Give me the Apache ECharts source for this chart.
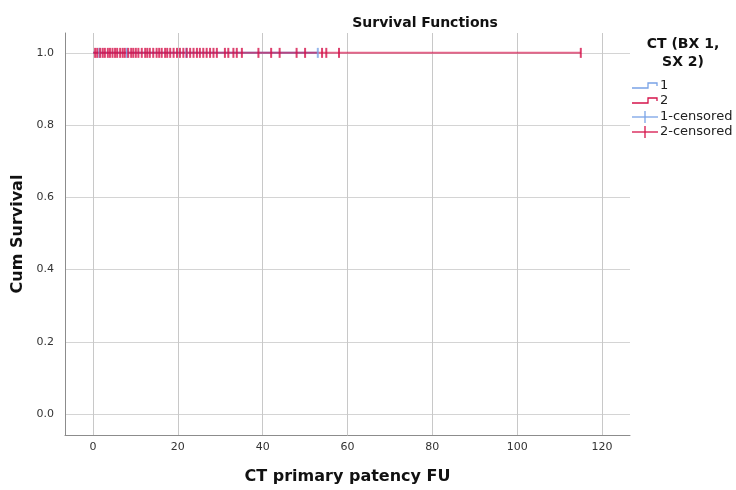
<!DOCTYPE html>
<html><head><meta charset="utf-8">
<script src="https://cdn.jsdelivr.net/npm/echarts@6/dist/echarts.min.js"></script>
<style>html,body{margin:0;padding:0;background:#fff}#c{width:736px;height:490px}</style>
</head><body><div id="c"></div>
<script>
// Survival step lines (time, cumulative survival)
const group1Line = [[0, 1.0], [53, 1.0]];
const group2Line = [[0, 1.0], [115, 1.0]];
// Censored times
const group1Censored = [1.5, 8, 22, 53];
const group2Censored = [0.5, 1.0, 1.7, 2.3, 2.8, 3.5, 4.0, 4.6, 5.2, 5.7, 6.4, 7.0, 7.5, 8.3, 9.0, 9.5, 10.1, 10.7, 11.5, 12.3, 12.8, 13.4, 14.2, 15.0, 15.6, 16.2, 17.0, 17.5, 18.2, 19.0, 19.8, 20.5, 21.3, 22.1, 22.9, 23.7, 24.5, 25.2, 26.0, 26.8, 27.6, 28.4, 29.2, 31.1, 31.9, 33.1, 33.9, 35.1, 39, 42, 44, 48, 50, 54, 55, 58, 115];
const censoredSurvival = 1.0;
const legendLabels = ['1', '2', '1-censored', '2-censored'];

const BLUE = '#79a3e6', RED = '#d5134b';
const FONT = 'DejaVu Sans';
const chart = echarts.init(document.getElementById('c'));

const legendGraphics = [];
const ly = [86, 101, 117, 132];
legendLabels.forEach((lab, i) => {
  const col = i % 2 === 0 ? BLUE : RED;
  const y = ly[i];
  if (i < 2) {
    legendGraphics.push({type: 'polyline', shape: {points: [[632, y + 2], [648, y + 2], [648, y - 3], [657, y - 3], [657, y]]}, style: {stroke: col, lineWidth: 1.3, fill: null}});
  } else {
    legendGraphics.push({type: 'line', shape: {x1: 632, y1: y, x2: 658, y2: y}, style: {stroke: col, lineWidth: 1.3}});
    legendGraphics.push({type: 'line', shape: {x1: 645, y1: y - 6, x2: 645, y2: y + 6}, style: {stroke: col, lineWidth: 1.3}});
  }
  legendGraphics.push({type: 'text', x: 660, y: y, style: {text: lab, fontFamily: FONT, fontSize: 13, fill: '#222', verticalAlign: 'middle', align: 'left'}});
});
legendGraphics.push({type: 'text', x: 683, y: 53, style: {text: 'CT (BX 1,\nSX 2)', fontFamily: FONT, fontSize: 14, fontWeight: 'bold', fill: '#111', align: 'center', verticalAlign: 'middle', lineHeight: 18}});

chart.setOption({
  animation: false,
  backgroundColor: '#fff',
  title: {text: 'Survival Functions', left: 420, top: 11, textAlign: 'center',
    textStyle: {fontFamily: FONT, fontSize: 14, fontWeight: 'bold', color: '#111'}},
  grid: {left: 65, right: 106, top: 33, bottom: 55},
  xAxis: {type: 'value', min: -6.6, max: 126.6, splitNumber: 7,
    name: 'CT primary patency FU', nameLocation: 'middle', nameGap: 34,
    nameTextStyle: {fontFamily: FONT, fontSize: 16, fontWeight: 'bold', color: '#111'},
    axisLine: {show: true, onZero: false, lineStyle: {color: '#8c8c8c', width: 1}},
    axisTick: {show: false},
    axisLabel: {showMinLabel: false, showMaxLabel: false, fontFamily: FONT, fontSize: 11, color: '#333', margin: 7},
    splitLine: {show: true, showMinLine: false, showMaxLine: false, lineStyle: {color: '#c8c8c8', width: 1}}},
  yAxis: {type: 'value', min: -0.058, max: 1.055, splitNumber: 5,
    name: 'Cum Survival', nameLocation: 'middle', nameGap: 38,
    nameTextStyle: {fontFamily: FONT, fontSize: 16, fontWeight: 'bold', color: '#111'},
    axisLine: {show: true, onZero: false, lineStyle: {color: '#8c8c8c', width: 1}},
    axisTick: {show: false},
    axisLabel: {showMinLabel: false, showMaxLabel: false, fontFamily: FONT, fontSize: 11, color: '#333', margin: 11,
      formatter: v => v.toFixed(1)},
    splitLine: {show: true, showMinLine: false, showMaxLine: false, lineStyle: {color: '#d4d4d4', width: 1}}},
  graphic: legendGraphics,
  series: [
    {type: 'line', step: 'end', data: group1Line, symbol: 'none', lineStyle: {color: BLUE, width: 2}, z: 2},
    {type: 'line', step: 'end', data: group2Line, symbol: 'none', lineStyle: {color: RED, width: 2, opacity: 0.65}, z: 3},
    {type: 'scatter', data: group1Censored.map(t => [t, censoredSurvival]), symbol: 'rect', symbolSize: [2, 10],
      itemStyle: {color: BLUE}, z: 4},
    {type: 'scatter', data: group2Censored.map(t => [t, censoredSurvival]), symbol: 'rect', symbolSize: [2, 10],
      itemStyle: {color: RED}, z: 5}
  ]
});
</script></body></html>
